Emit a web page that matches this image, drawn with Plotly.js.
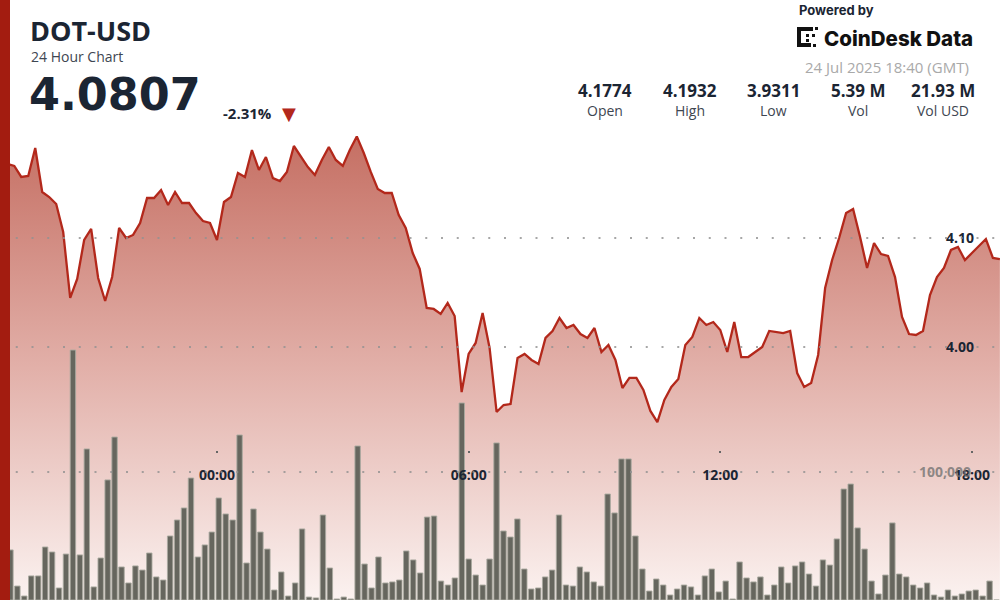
<!DOCTYPE html>
<html><head><meta charset="utf-8">
<script src="https://cdn.plot.ly/plotly-3.0.1.min.js"></script>
<style>html,body{margin:0;padding:0;background:#fff}#chart{width:1000px;height:600px}</style>
</head><body><div id="chart"></div>
<script>
// ---- data ----
const symbol = 'DOT-USD';
const subtitle = '24 Hour Chart';
const lastPrice = '4.0807';
const changePct = '-2.31%';
const timestampText = '24 Jul 2025 18:40 (GMT)';
const statValues = ['4.1774', '4.1932', '3.9311', '5.39 M', '21.93 M'];
const statLabels = ['Open', 'High', 'Low', 'Vol', 'Vol USD'];
const timeStart = '2025-07-23T18:50:00Z';
const stepMinutes = 10;
const timeTickVals = ['2025-07-24 00:00', '2025-07-24 06:00', '2025-07-24 12:00', '2025-07-24 18:00'];
const timeTickText = ['00:00', '06:00', '12:00', '18:00'];
const priceTickVals = [4.00, 4.10];
const priceTickText = ['4.00', '4.10'];
const volTickVals = [100000];
const volTickText = ['100,000'];

const price = [
4.1720,4.1680,4.1661,4.1560,4.1569,4.1826,4.1422,4.1376,4.1312,4.1055,
4.0450,4.0624,4.0982,4.1083,4.0633,4.0422,4.0642,4.1092,4.1000,4.1028,
4.1138,4.1367,4.1367,4.1440,4.1303,4.1422,4.1321,4.1321,4.1229,4.1156,
4.1138,4.0982,4.1330,4.1376,4.1596,4.1560,4.1807,4.1624,4.1743,4.1550,
4.1523,4.1606,4.1844,4.1743,4.1651,4.1578,4.1716,4.1835,4.1716,4.1661,
4.1807,4.1932,4.1780,4.1606,4.1450,4.1413,4.1413,4.1211,4.1092,4.0862,
4.0716,4.0358,4.0349,4.0303,4.0404,4.0284,3.9587,3.9936,4.0037,4.0312,
3.9991,3.9404,3.9468,3.9477,3.9899,3.9936,3.9881,3.9844,4.0083,4.0147,
4.0266,4.0174,4.0202,4.0119,4.0083,4.0174,3.9954,4.0018,3.9881,3.9624,
3.9716,3.9716,3.9606,3.9413,3.9311,3.9514,3.9633,3.9706,4.0018,4.0092,
4.0266,4.0202,4.0229,4.0156,3.9954,4.0229,3.9908,3.9908,3.9954,4.0000,
4.0147,4.0138,4.0128,4.0147,3.9761,3.9633,3.9670,3.9927,4.0541,4.0798,
4.1000,4.1229,4.1266,4.1009,4.0725,4.0954,4.0853,4.0835,4.0642,4.0275,
4.0119,4.0110,4.0147,4.0477,4.0642,4.0725,4.0890,4.0917,4.0798,4.0862,
4.0927,4.0991,4.0817,4.0807
];

const volume = [
31300,39100,10900,3100,18800,18800,41400,37500,9400,35900,
195300,35200,118000,10200,32800,93800,127300,25800,13300,26600,
23400,36700,18000,15600,50000,62500,71900,95300,33600,43000,
53100,79700,67200,62500,128900,28900,71100,53100,39800,7800,
21900,3100,13300,55500,2300,1600,66400,25000,800,2300,
800,120300,28100,9400,33600,13300,14100,15600,38300,31300,
21100,64800,65600,14800,11700,17200,153900,32000,19500,11700,
32000,122700,53900,49200,63300,24200,8600,9400,18000,23400,
66400,11700,10900,25800,21900,14100,10900,82800,68000,110200,
110200,50000,24200,7000,16400,11700,3900,8600,11700,10200,
3900,18800,24200,6300,14800,800,29700,17200,14100,18000,
3900,11700,25800,13300,26600,29700,20300,10900,31300,27300,
47700,86700,90600,56300,39800,14800,4700,19500,60200,20300,
18000,11700,9400,13300,3900,2300,7800,3100,4700,7000,
7800,3100,14800,0
];

// ---- build ----
function buildTimes(n) {
  const t0 = Date.parse(timeStart), out = [];
  for (let i = 0; i < n; i++) {
    const d = new Date(t0 + i * stepMinutes * 60000);
    out.push(d.toISOString().slice(0, 16).replace('T', ' '));
  }
  return out;
}
const times = buildTimes(price.length);
const barIndex = volume.map((_, i) => i);

const W = 1000, H = 600;
const px = x => x / W, py = y => 1 - y / H;
const DARK = '#1b2533';
const RED = '#b3281b';
const GRID = 'rgba(145,145,145,0.8)';
const OS = 'Open Sans, sans-serif';

const traces = [
  {
    type: 'scatter', mode: 'lines', x: times, y: price, xaxis: 'x', yaxis: 'y',
    line: {color: RED, width: 2.3, shape: 'linear'},
    fill: 'tozeroy',
    fillgradient: {type: 'vertical', start: 3.768, stop: 4.193,
      colorscale: [[0, 'rgb(251,242,240)'], [0.5, 'rgb(226,176,169)'], [1, 'rgb(197,111,99)']]},
    hoverinfo: 'skip'
  },
  {
    type: 'bar', x: barIndex, y: volume, xaxis: 'x2', yaxis: 'y3',
    marker: {color: 'rgb(102,102,94)', line: {color: 'rgba(170,170,160,0.9)', width: 1}},
    hoverinfo: 'skip'
  }
];

function ann(text, x, y, o) {
  o = o || {};
  return {text: text, x: px(x), y: py(y), xref: 'paper', yref: 'paper', showarrow: false,
    xanchor: o.xa || 'left', yanchor: o.ya || 'middle',
    font: {family: o.family || OS, size: o.size || 14, color: o.color || DARK, weight: o.weight || 400}};
}

const annotations = [
  ann(symbol, 28, 31, {size: 27, weight: 700}),
  ann(subtitle, 29, 56, {size: 14, color: '#3e4651'}),
  ann(lastPrice, 27, 94, {size: 44.5, weight: 700, family: 'DejaVu Sans, sans-serif'}),
  ann(changePct, 221, 113, {size: 15, weight: 700}),
  ann('▼', 289, 113, {size: 18, color: RED, xa: 'center', family: 'DejaVu Sans, sans-serif'}),
  ann('Powered by', 797, 10, {size: 13, weight: 700, family: 'Inter, sans-serif'}),
  ann('CoinDesk Data', 822, 38, {size: 20.5, weight: 800, family: 'Inter, sans-serif', color: '#111'}),
  ann(timestampText, 971, 67, {size: 15, color: '#a9a9a9', xa: 'right'})
];
const statX = [605, 690, 773, 858, 943];
statValues.forEach((v, i) => {
  annotations.push(ann(v, statX[i], 90, {size: 17, weight: 700, xa: 'center'}));
  annotations.push(ann(statLabels[i], statX[i], 110, {size: 14, color: '#3e4651', xa: 'center'}));
});

function rect(x0, y0, x1, y1, color) {
  return {type: 'rect', xref: 'paper', yref: 'paper', x0: px(x0), x1: px(x1), y0: py(y1), y1: py(y0),
    fillcolor: color, line: {width: 0}, layer: 'above'};
}
function gridLine(yref, val) {
  return {type: 'line', xref: 'paper', yref: yref, x0: 0, x1: 1, y0: val, y1: val,
    line: {color: GRID, width: 2, dash: '2px,13.75px'}, layer: 'above'};
}
const shapes = [
  ...priceTickVals.map(v => gridLine('y', v)),
  ...volTickVals.map(v => gridLine('y3', v)),
  rect(0, 0, 10, 600, '#a31c10'),
  // logo mark
  rect(797, 27, 801, 47, '#111'),
  rect(797, 27, 813, 31, '#111'),
  rect(815, 27, 818, 30, '#111'),
  rect(797, 43, 811, 47, '#111'),
  rect(813, 44, 816, 47, '#111'),
  rect(806, 34, 809, 37, '#111'),
  rect(812, 34, 815, 37, '#111'),
  rect(806, 39, 809, 42, '#111')
];

const layout = {
  width: W, height: H,
  margin: {l: 0, r: 0, t: 0, b: 0, pad: 0},
  paper_bgcolor: '#ffffff', plot_bgcolor: 'rgba(0,0,0,0)',
  showlegend: false,
  xaxis: {
    type: 'date', range: ['2025-07-23 18:49:35', '2025-07-24 18:40:10'],
    tickvals: timeTickVals, ticktext: timeTickText,
    anchor: 'free', position: 0.25,
    showgrid: false, zeroline: false, showline: false,
    ticks: 'outside', ticklen: 2, tickwidth: 2, tickcolor: '#666',
    ticklabelstandoff: 10,
    tickfont: {family: OS, size: 14, color: DARK, weight: 700},
    fixedrange: true
  },
  yaxis: {
    range: [3.76789, 4.31835],
    tickvals: priceTickVals, ticktext: priceTickText,
    side: 'left', anchor: 'free', position: 0.974, ticklabelposition: 'outside',
    showgrid: false, zeroline: false, showline: false, ticks: '',
    tickfont: {family: OS, size: 14, color: DARK, weight: 700},
    fixedrange: true
  },
  xaxis2: {
    overlaying: 'x', range: [-0.5, 143.5], visible: false, fixedrange: true
  },
  yaxis3: {
    overlaying: 'y', range: [0, 468750],
    tickvals: volTickVals, ticktext: volTickText,
    side: 'left', anchor: 'free', position: 0.971, ticklabelposition: 'outside',
    showgrid: false, zeroline: false, showline: false, ticks: '',
    tickfont: {family: OS, size: 14, color: 'rgba(110,110,110,0.75)', weight: 700},
    fixedrange: true
  },
  bargap: 0.22,
  annotations: annotations,
  shapes: shapes
};

Plotly.newPlot('chart', traces, layout, {displayModeBar: false, staticPlot: true});
</script>
</body></html>
